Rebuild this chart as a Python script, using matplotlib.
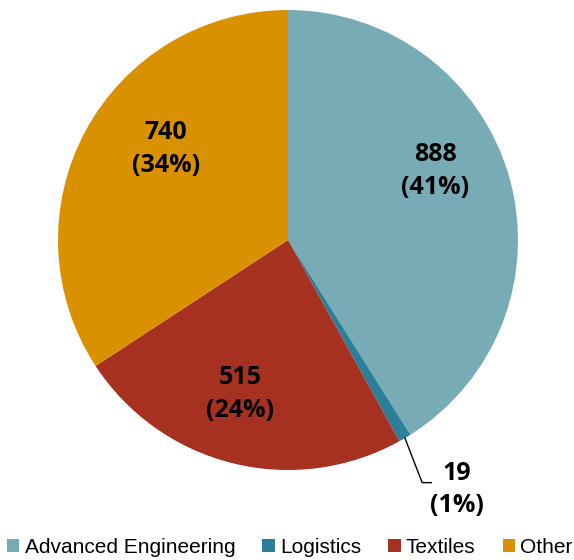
import numpy as np
import matplotlib
matplotlib.use('Agg')
import matplotlib.pyplot as plt
from matplotlib.patches import Patch

categories = ['Advanced Engineering', 'Logistics', 'Textiles', 'Other']
values = [888, 19, 515, 740]
percents = ['41%', '1%', '24%', '34%']
colors = ['#77abb6', '#2b7f99', '#a73121', '#d99100']

# label placement in pie units (radius = 1)
label_xy = [(0.64, 0.30), None, (-0.21, -0.67), (-0.53, 0.395)]

fig = plt.figure(figsize=(5.74, 5.60), dpi=100)
ax = fig.add_axes([58 / 574, 1 - 470 / 560, 460 / 574, 460 / 560])

wedges, _ = ax.pie(values, colors=colors, startangle=90, counterclock=False,
                   radius=1, wedgeprops=dict(linewidth=0))
ax.set_xlim(-1, 1)
ax.set_ylim(-1, 1)
ax.set_aspect('auto')
ax.axis('off')

lab_font = dict(family=['Open Sans', 'DejaVu Sans'], fontweight='bold', fontsize=18,
                color='black', ha='center', va='center', linespacing=1.4)

for i, w in enumerate(wedges):
    if label_xy[i] is None:
        continue
    x, y = label_xy[i]
    ax.text(x, y, f'{values[i]}\n({percents[i]})', **lab_font)

# small slice: leader line and outside label
w = wedges[1]
mid = np.deg2rad((w.theta1 + w.theta2) / 2)
ex, ey = np.cos(mid), np.sin(mid)
kx, ky = ex + 0.075, -1.055
ax.plot([ex, kx, kx + 0.04], [ey, ky, ky], color='black', lw=1, clip_on=False)
ax.text(kx + 0.15, -1.085, f'{values[1]}\n({percents[1]})', clip_on=False,
        **lab_font)

handles = [Patch(facecolor=c, edgecolor='none') for c in colors]
fig.legend(handles, categories, loc='lower center', bbox_to_anchor=(0.505, -0.028),
           ncol=4, frameon=False, handlelength=0.6, handleheight=0.6,
           handletextpad=0.25, columnspacing=1.3,
           prop=dict(family='Liberation Sans', size=15))

fig.savefig('out.png', dpi=100, facecolor='white')
